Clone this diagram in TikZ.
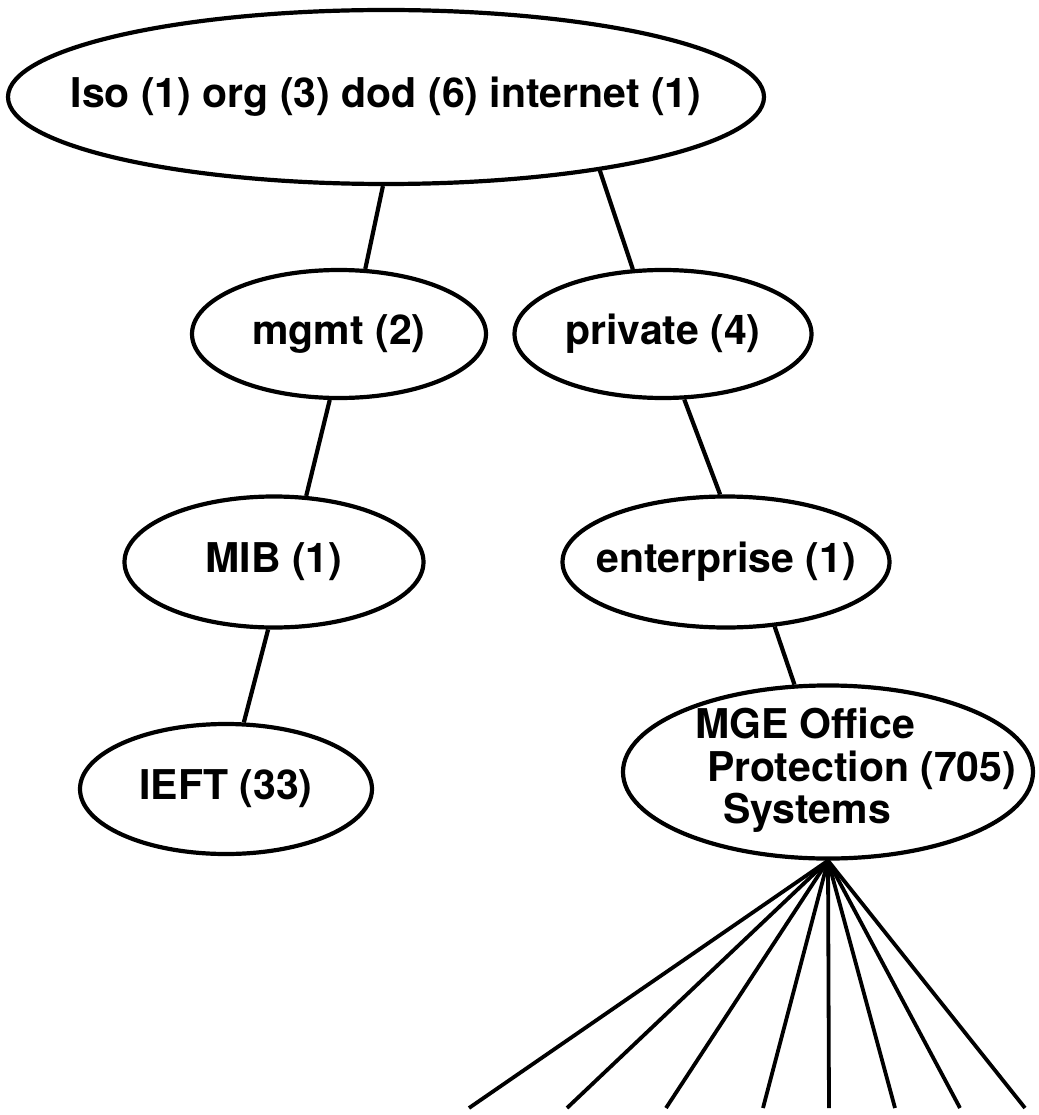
\documentclass[tikz,border=0pt]{standalone}
\usepackage{fontspec}
\setmainfont{TeX Gyre Heros}
\usetikzlibrary{shapes.geometric}
\tikzset{
  oid/.style={ellipse,draw,line width=4.2pt,inner sep=0pt,
    font=\fontsize{41}{41}\selectfont\bfseries},
  branch/.style={line width=4.2pt},
  fan/.style={line width=3.8pt},
}
\newcommand{\oidtext}[1]{\makebox[0pt]{#1}}

\begin{document}
\begin{tikzpicture}[x=1pt,y=-1pt]
  \useasboundingbox (0,0) rectangle (1038,1115);
  % tree of ellipses
  \node[oid,minimum width=756pt,minimum height=174pt] (internet) at (386,97) {\oidtext{Iso (1) org (3) dod (6) internet (1)}};
  \node[oid,minimum width=294pt,minimum height=128pt] (mgmt) at (339,334) {\oidtext{mgmt (2)}};
  \node[oid,minimum width=297pt,minimum height=128pt] (private) at (663,334) {\oidtext{private (4)}};
  \node[oid,minimum width=299pt,minimum height=131pt] (mib) at (274,562) {\oidtext{MIB (1)}};
  \node[oid,minimum width=327pt,minimum height=131pt] (enterprise) at (726,562) {\oidtext{enterprise (1)}};
  \node[oid,minimum width=292pt,minimum height=130pt] (ieft) at (226,789) {\oidtext{IEFT (33)}};
  \node[oid,minimum width=410pt,minimum height=166pt,inner ysep=-3pt] (mge) at (828,772)
    {\makebox[0pt][l]{\hspace{-133pt}\begin{tabular}{@{}l@{}}MGE Office\\\hspace*{12pt}Protection (705)\\\hspace*{28pt}Systems\end{tabular}}};

  \draw[branch] (internet.-92) -- (mgmt.68.5);
  \draw[branch] (internet.-19.6) -- (private.115.8);
  \draw[branch] (mgmt.-98) -- (mib.64.5);
  \draw[branch] (private.-72.6) -- (enterprise.95.3);
  \draw[branch] (mib.-95) -- (ieft.75.3);
  \draw[branch] (enterprise.-53.4) -- (mge.111.2);

  \foreach \x [count=\i] in {469,567,666,763,829,895,960,1025}
  {
    \coordinate (leaf\i) at (\x,1108);
    \draw[fan] (mge.south) -- (leaf\i);
  }
\end{tikzpicture}
\end{document}
